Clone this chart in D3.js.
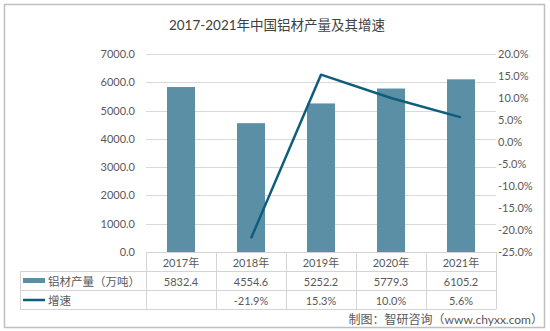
<!DOCTYPE html>
<html>
<head>
<meta charset="utf-8">
<script src="https://cdn.jsdelivr.net/npm/d3@7"></script>
<style>
  html, body { margin: 0; padding: 0; background: #fff; }
  svg { display: block; }
  text { font-family: "Lato", "Noto Sans CJK SC", sans-serif; fill: #595959; }
</style>
</head>
<body>
<svg id="chart" width="550" height="331"></svg>
<script>
// Aluminium output (10k tonnes) and year-on-year growth, 2017-2021
const years = ["2017年", "2018年", "2019年", "2020年", "2021年"];
const output = [5832.4, 4554.6, 5252.2, 5779.3, 6105.2];
const growth = [null, -21.9, 15.3, 10.0, 5.6];
const leftTicks = [0, 1000, 2000, 3000, 4000, 5000, 6000, 7000];
const rightTicks = [-25, -20, -15, -10, -5, 0, 5, 10, 15, 20];
const outputName = "铝材产量（万吨）";
const growthName = "增速";
const title = "2017-2021年中国铝材产量及其增速";
const credit = "制图：智研咨询（www.chyxx.com）";

const barColor = "#5b8fa5";
const lineColor = "#0f5d7c";
const gridColor = "#d9d9d9";
const tableColor = "#d4d4d4";

// plain hyphen-minus for negative numbers
const locale = d3.formatLocale({ decimal: ".", thousands: ",", grouping: [3], currency: ["", ""], minus: "-" });
const fmt1 = locale.format(".1f");
const pct = d => fmt1(d) + "%";

const svg = d3.select("#chart");

// outer frame
svg.append("rect")
  .attr("x", 4.5).attr("y", 4.5)
  .attr("width", 540).attr("height", 323)
  .attr("fill", "#fff")
  .attr("stroke", "#bfbfbf").attr("stroke-width", 1.5);

const plot = { left: 146, right: 496, top: 54, bottom: 252 };

const x = d3.scaleBand()
  .domain(years)
  .range([plot.left, plot.right])
  .paddingInner(0.6)
  .paddingOuter(0.3);

const yL = d3.scaleLinear().domain([0, 7000]).range([plot.bottom, plot.top]);
const yR = d3.scaleLinear().domain([-25, 20]).range([plot.bottom, plot.top]);

// title
svg.append("text")
  .attr("x", 277).attr("y", 30)
  .attr("text-anchor", "middle")
  .attr("font-size", 13.5)
  .style("fill", "#404040")
  .text(title);

// gridlines
svg.append("g")
  .selectAll("line")
  .data(leftTicks.filter(d => d > 0))
  .join("line")
  .attr("x1", plot.left).attr("x2", plot.right)
  .attr("y1", d => Math.round(yL(d)) + 0.5)
  .attr("y2", d => Math.round(yL(d)) + 0.5)
  .attr("stroke", gridColor).attr("stroke-width", 1);

// left axis
const axL = svg.append("g")
  .attr("transform", `translate(${plot.left},0)`)
  .call(d3.axisLeft(yL).tickValues(leftTicks).tickFormat(fmt1).tickSize(0).tickPadding(11));
axL.select(".domain").remove();
axL.selectAll("text").attr("font-size", 11).style("font-family", "Lato, sans-serif");

// right axis
const axR = svg.append("g")
  .attr("transform", `translate(${plot.right},0)`)
  .call(d3.axisRight(yR).tickValues(rightTicks).tickFormat(pct).tickSize(0).tickPadding(2));
axR.select(".domain").remove();
axR.selectAll("text").attr("font-size", 11).style("font-family", "Lato, sans-serif");

// bars
svg.append("g")
  .selectAll("rect")
  .data(output)
  .join("rect")
  .attr("x", (d, i) => x(years[i]))
  .attr("width", x.bandwidth())
  .attr("y", d => yL(d))
  .attr("height", d => yL(0) - yL(d))
  .attr("fill", barColor);

// growth line
const pts = growth.map((g, i) => ({ g, i })).filter(p => p.g !== null);
svg.append("path")
  .datum(pts)
  .attr("fill", "none")
  .attr("stroke", lineColor)
  .attr("stroke-width", 2.5)
  .attr("stroke-linejoin", "round")
  .attr("d", d3.line()
    .x(p => x(years[p.i]) + x.bandwidth() / 2)
    .y(p => yR(p.g)));

// data table
const rows = [252, 271, 290, 309];
const step = x.step();
const colEdges = d3.range(years.length + 1).map(i => plot.left + i * step);
const tbl = svg.append("g").attr("stroke", tableColor).attr("stroke-width", 1);

tbl.append("line").attr("x1", plot.left).attr("x2", plot.right)
  .attr("y1", rows[0] + 0.5).attr("y2", rows[0] + 0.5);
rows.slice(1).forEach(r => {
  tbl.append("line").attr("x1", 20).attr("x2", plot.right)
    .attr("y1", r + 0.5).attr("y2", r + 0.5);
});
colEdges.forEach(cx => {
  tbl.append("line").attr("x1", cx + 0.5).attr("x2", cx + 0.5)
    .attr("y1", rows[0]).attr("y2", rows[3] + 0.5);
});
tbl.append("line").attr("x1", 20.5).attr("x2", 20.5)
  .attr("y1", rows[1]).attr("y2", rows[3] + 0.5);

const cellText = (cx, cy, s) => svg.append("text")
  .attr("x", cx).attr("y", cy)
  .attr("text-anchor", "middle")
  .attr("dominant-baseline", "central")
  .attr("font-size", 11)
  .text(s);

years.forEach((yr, i) => {
  const cx = x(yr) + x.bandwidth() / 2;
  cellText(cx, (rows[0] + rows[1]) / 2 + 0.5, yr);
  cellText(cx, (rows[1] + rows[2]) / 2 + 0.5, fmt1(output[i]));
  if (growth[i] !== null) cellText(cx, (rows[2] + rows[3]) / 2 + 0.5, pct(growth[i]));
});

// legend keys inside the table
svg.append("rect")
  .attr("x", 23).attr("y", 278)
  .attr("width", 22).attr("height", 5)
  .attr("fill", barColor);
svg.append("text")
  .attr("x", 48).attr("y", (rows[1] + rows[2]) / 2 + 0.5)
  .attr("dominant-baseline", "central")
  .attr("font-size", 11.5)
  .text(outputName);

svg.append("line")
  .attr("x1", 23).attr("x2", 45)
  .attr("y1", 300).attr("y2", 300)
  .attr("stroke", lineColor).attr("stroke-width", 2.5);
svg.append("text")
  .attr("x", 48).attr("y", (rows[2] + rows[3]) / 2 + 0.5)
  .attr("dominant-baseline", "central")
  .attr("font-size", 11.5)
  .text(growthName);

// source note
svg.append("text")
  .attr("x", 543).attr("y", 319)
  .attr("text-anchor", "end")
  .attr("dominant-baseline", "central")
  .attr("font-size", 12)
  .text(credit);
</script>
</body>
</html>
